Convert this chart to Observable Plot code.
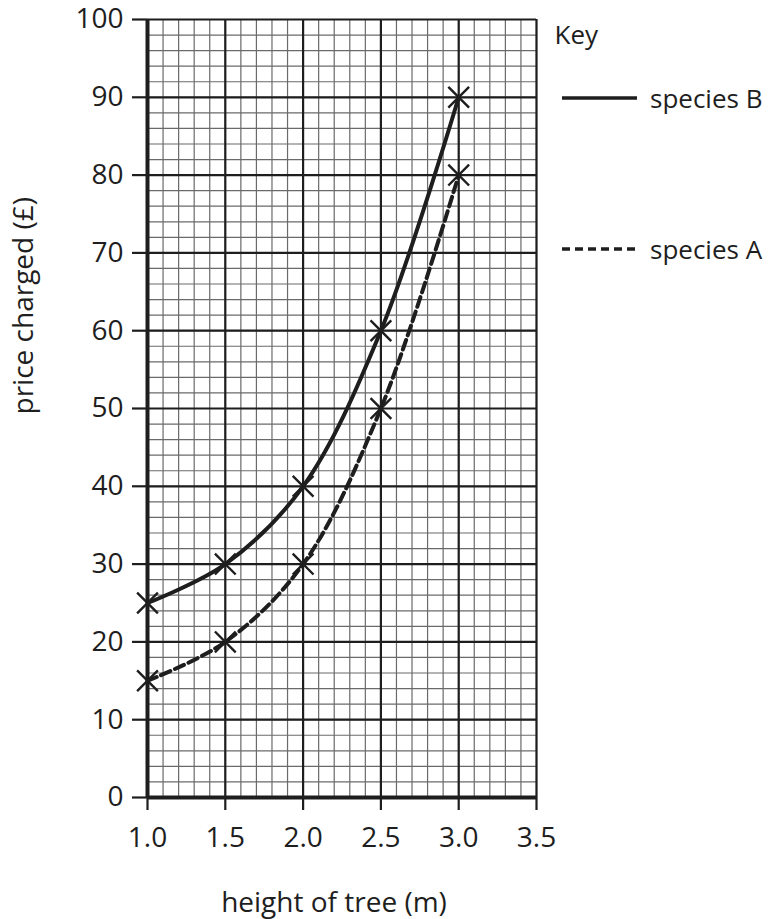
<!DOCTYPE html>
<html>
<head>
<meta charset="utf-8">
<script src="https://cdn.jsdelivr.net/npm/d3@7"></script>
<script src="https://cdn.jsdelivr.net/npm/@observablehq/plot@0.6"></script>
<style>
  html, body { margin: 0; padding: 0; background: #fff; }
  #wrap { position: relative; width: 773px; height: 919px; font-family: "Open Sans", sans-serif; }
  #key { position: absolute; left: 0; top: 0; pointer-events: none; }
</style>
</head>
<body>
<div id="wrap"></div>
<script>
// ---- data ----
const heights = [1.0, 1.5, 2.0, 2.5, 3.0];
const speciesB = [25, 30, 40, 60, 90];
const speciesA = [15, 20, 30, 50, 80];
const seriesNames = ["species B", "species A"];
const xTicks = [1.0, 1.5, 2.0, 2.5, 3.0, 3.5];
const yTicks = [0, 10, 20, 30, 40, 50, 60, 70, 80, 90, 100];
const xLabel = "height of tree (m)";
const yLabel = "price charged (£)";
const keyTitle = "Key";

const minorX = d3.range(10, 36, 1).map(d => d / 10);
const minorY = d3.range(0, 101, 2);

const rows = [];
heights.forEach((h, i) => {
  rows.push({series: seriesNames[0], x: h, y: speciesB[i]});
  rows.push({series: seriesNames[1], x: h, y: speciesA[i]});
});
const rowsB = rows.filter(d => d.series === seriesNames[0]);
const rowsA = rows.filter(d => d.series === seriesNames[1]);

const ink = "#1e1e1e";

const chart = Plot.plot({
  width: 773,
  height: 919,
  marginLeft: 147,
  marginRight: 237,
  marginTop: 19,
  marginBottom: 122,
  style: {fontFamily: "'Open Sans', sans-serif", fontSize: "28px", color: ink, background: "#fff", overflow: "visible"},
  x: {domain: [1.0, 3.5]},
  y: {domain: [0, 100]},
  marks: [
    Plot.gridX(minorX, {stroke: "#6a6a6a", strokeOpacity: 1, strokeWidth: 1.2}),
    Plot.gridY(minorY, {stroke: "#6a6a6a", strokeOpacity: 1, strokeWidth: 1.2}),
    Plot.gridX(xTicks, {stroke: ink, strokeOpacity: 1, strokeWidth: 2.2}),
    Plot.gridY(yTicks, {stroke: ink, strokeOpacity: 1, strokeWidth: 2.2}),
    Plot.axisX({ticks: xTicks, tickSize: 13, tickPadding: 17, tickFormat: d3.format(".1f"), strokeWidth: 2.2, label: null, fontSize: 28}),
    Plot.axisY({ticks: yTicks, tickSize: 15, tickPadding: 9, strokeWidth: 2.2, label: null, fontSize: 28}),
    Plot.ruleX([1.0], {stroke: ink, strokeWidth: 4}),
    Plot.ruleY([0], {stroke: ink, strokeWidth: 4}),
    Plot.line(rowsB, {x: "x", y: "y", stroke: ink, strokeWidth: 4, curve: "catmull-rom"}),
    Plot.line(rowsA, {x: "x", y: "y", stroke: ink, strokeWidth: 4, strokeDasharray: "10,5", curve: "catmull-rom"}),
    Plot.dot(rows, {x: "x", y: "y", symbol: "times", r: 9.5, stroke: ink, strokeWidth: 2.4}),
    Plot.text([yLabel], {frameAnchor: "left", dx: -123, dy: 6, rotate: -90, text: d => d, fontSize: 28, fill: ink, lineAnchor: "middle"}),
    Plot.text([xLabel], {frameAnchor: "bottom", dx: -8, dy: 106, text: d => d, fontSize: 28, fill: ink, lineAnchor: "middle"}),
    Plot.text([keyTitle], {frameAnchor: "top-right", dx: 18, dy: 16, text: d => d, textAnchor: "start", lineAnchor: "middle", fontSize: 26, fill: ink})
  ]
});

const wrap = document.getElementById("wrap");
wrap.appendChild(chart);

// ---- key (legend overlay) ----
const key = d3.select(wrap).append("svg")
  .attr("id", "key").attr("width", 773).attr("height", 919);
const keyItems = [
  {name: seriesNames[0], dash: null, cy: 98},
  {name: seriesNames[1], dash: "8,5", cy: 249}
];
keyItems.forEach(k => {
  key.append("line")
    .attr("x1", 562).attr("x2", 637).attr("y1", k.cy).attr("y2", k.cy)
    .attr("stroke", ink).attr("stroke-width", 3.4)
    .attr("stroke-dasharray", k.dash);
  key.append("text")
    .attr("x", 650).attr("y", k.cy + 2).attr("dy", "0.32em")
    .attr("font-family", "'Open Sans', sans-serif").attr("font-size", 26)
    .attr("fill", ink).text(k.name);
});
</script>
</body>
</html>
